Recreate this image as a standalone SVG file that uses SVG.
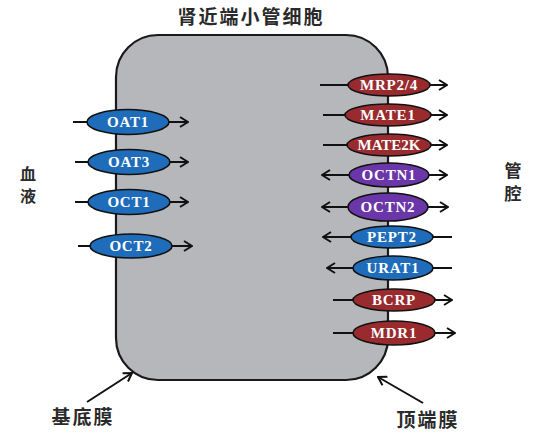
<svg xmlns="http://www.w3.org/2000/svg" width="535" height="439" viewBox="0 0 535 439">
<defs>
<style>
.cell{fill:#b5b7ba;stroke:#1a1a1a;stroke-width:2.2}
.ln{stroke:#111;stroke-width:2;fill:none}
.blue{fill:#1f6cbb;stroke:#111;stroke-width:1.6}
.red{fill:#992b2f;stroke:#111;stroke-width:1.6}
.pur{fill:#6a36a8;stroke:#111;stroke-width:1.6}
.t{font-family:"Liberation Serif","Times New Roman",serif;font-weight:bold;font-size:15px;fill:#fff;text-anchor:middle;letter-spacing:0.8px}
.cn{font-family:"Noto Sans CJK SC","Noto Sans",sans-serif;font-weight:bold;fill:#2a2a2a;text-anchor:middle}
</style>
<marker id="ah" viewBox="0 0 10 12" markerWidth="10" markerHeight="12" refX="9" refY="6" orient="auto-start-reverse" markerUnits="userSpaceOnUse">
<path d="M1,1 L9,6 L1,11" fill="none" stroke="#111" stroke-width="2"/>
</marker>
</defs>
<rect width="535" height="439" fill="#ffffff"/>
<g id="cell"><rect class="cell" x="116" y="35" width="272" height="345" rx="42" ry="42"/></g>
<g id="connectors">
<line class="ln" x1="73" y1="122" x2="188" y2="122" marker-end="url(#ah)"/>
<line class="ln" x1="75" y1="162" x2="188" y2="162" marker-end="url(#ah)"/>
<line class="ln" x1="75" y1="202" x2="188" y2="202" marker-end="url(#ah)"/>
<line class="ln" x1="78" y1="246" x2="192" y2="246" marker-end="url(#ah)"/>
<line class="ln" x1="320" y1="85" x2="447" y2="85" marker-end="url(#ah)"/>
<line class="ln" x1="323" y1="115" x2="447" y2="115" marker-end="url(#ah)"/>
<line class="ln" x1="323" y1="145" x2="447" y2="145" marker-end="url(#ah)"/>
<line class="ln" x1="322" y1="175" x2="447" y2="175" marker-start="url(#ah)" marker-end="url(#ah)"/>
<line class="ln" x1="322" y1="207" x2="448" y2="207" marker-start="url(#ah)" marker-end="url(#ah)"/>
<line class="ln" x1="323" y1="237" x2="452" y2="237" marker-start="url(#ah)"/>
<line class="ln" x1="327" y1="268" x2="452" y2="268" marker-start="url(#ah)"/>
<line class="ln" x1="333" y1="300" x2="452" y2="300" marker-end="url(#ah)"/>
<line class="ln" x1="333" y1="333" x2="455" y2="333" marker-end="url(#ah)"/>
<line class="ln" x1="87" y1="402" x2="132" y2="373" marker-end="url(#ah)"/>
<line class="ln" x1="423" y1="403" x2="378" y2="377" marker-end="url(#ah)"/>
</g>
<g id="OAT1"><ellipse class="blue" cx="128" cy="122" rx="41" ry="12.5"/><text class="t" x="128" y="127">OAT1</text></g>
<g id="OAT3"><ellipse class="blue" cx="129" cy="162" rx="41" ry="12.5"/><text class="t" x="129" y="167">OAT3</text></g>
<g id="OCT1"><ellipse class="blue" cx="129" cy="202" rx="41" ry="12.5"/><text class="t" x="129" y="207">OCT1</text></g>
<g id="OCT2"><ellipse class="blue" cx="131" cy="246" rx="41" ry="12"/><text class="t" x="131" y="251">OCT2</text></g>
<g id="MRP2_4"><ellipse class="red" cx="389" cy="85" rx="41" ry="11"/><text class="t" x="389" y="90">MRP2/4</text></g>
<g id="MATE1"><ellipse class="red" cx="388" cy="115" rx="43" ry="11"/><text class="t" x="388" y="120">MATE1</text></g>
<g id="MATE2K"><ellipse class="red" cx="389" cy="145" rx="42" ry="11"/><text class="t" x="389" y="150" style="letter-spacing:0">MATE2K</text></g>
<g id="OCTN1"><ellipse class="pur" cx="389" cy="175" rx="40" ry="12"/><text class="t" x="389" y="180">OCTN1</text></g>
<g id="OCTN2"><ellipse class="pur" cx="388" cy="207" rx="40" ry="14"/><text class="t" x="388" y="212">OCTN2</text></g>
<g id="PEPT2"><ellipse class="blue" cx="392" cy="237" rx="41" ry="11"/><text class="t" x="392" y="242">PEPT2</text></g>
<g id="URAT1"><ellipse class="blue" cx="393" cy="268" rx="40" ry="12"/><text class="t" x="393" y="273">URAT1</text></g>
<g id="BCRP"><ellipse class="red" cx="394" cy="300" rx="41" ry="11"/><text class="t" x="394" y="305">BCRP</text></g>
<g id="MDR1"><ellipse class="red" cx="394" cy="333" rx="41" ry="12"/><text class="t" x="394" y="338">MDR1</text></g>
<g id="labels">
<text class="cn" x="251" y="24" font-size="19" letter-spacing="2">肾近端小管细胞</text>
<text class="cn" x="28" y="180" font-size="16">血</text>
<text class="cn" x="28" y="202" font-size="16">液</text>
<text class="cn" x="513" y="177" font-size="17">管</text>
<text class="cn" x="513" y="200" font-size="17">腔</text>
<text class="cn" x="83" y="424" font-size="19" letter-spacing="2">基底膜</text>
<text class="cn" x="428" y="427" font-size="19" letter-spacing="2">顶端膜</text>
</g>
</svg>
